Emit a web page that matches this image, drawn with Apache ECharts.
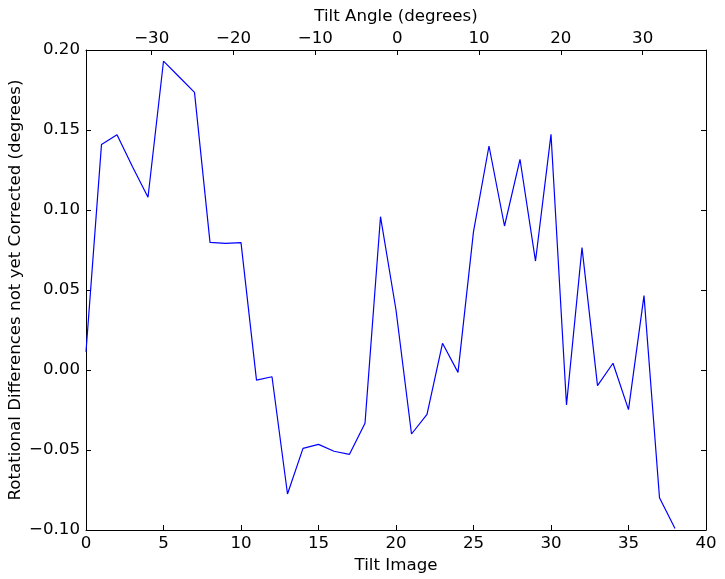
<!DOCTYPE html>
<html>
<head>
<meta charset="utf-8">
<script src="https://cdn.jsdelivr.net/npm/echarts@6/dist/echarts.min.js"></script>
<style>html,body{margin:0;padding:0;background:#fff}#c{width:725px;height:579px}</style>
</head>
<body>
<div id="c"></div>
<script>
const tiltImage = [0,1,2,3,4,5,6,7,8,9,10,11,12,13,14,15,16,17,18,19,20,21,22,23,24,25,26,27,28,29,30,31,32,33,34,35,36,37,38];
const rotDiff = [0.0114,0.141,0.147,0.127,0.108,0.193,0.1833,0.1735,0.0798,0.0792,0.0796,-0.0063,-0.0042,-0.0775,-0.049,-0.0465,-0.0508,-0.0527,-0.0333,0.0958,0.0375,-0.040,-0.0277,0.0167,-0.0015,0.0865,0.140,0.090,0.1317,0.0681,0.1473,-0.0219,0.0765,-0.0098,0.0042,-0.0248,0.0465,-0.0798,-0.099];
const bottomTicks = [0,5,10,15,20,25,30,35,40];
const topTicks = [-30,-20,-10,0,10,20,30];
const yTicks = [-0.10,-0.05,0.00,0.05,0.10,0.15,0.20];

const FONT = 'DejaVu Sans';
const FS = 16.67;
const minus = v => (v < 0 ? '\u2212' : '') + Math.abs(v);
const chart = echarts.init(document.getElementById('c'), null, {renderer: 'canvas'});
const axisLine = {show: true, onZero: false, lineStyle: {color: '#000', width: 1}};
const tick = {show: true, inside: true, length: 5, lineStyle: {color: '#000', width: 1}};
chart.setOption({
  backgroundColor: '#fff',
  animation: false,
  grid: {left: 86, right: 19, top: 50, bottom: 49, containLabel: false, outerBoundsMode: 'none'},
  xAxis: [
    {
      type: 'value', position: 'bottom', min: 0, max: 40, interval: 5,
      name: 'Tilt Image', nameLocation: 'middle', nameGap: 24,
      nameTextStyle: {fontFamily: FONT, fontSize: FS, color: '#000'},
      axisLine, axisTick: tick, splitLine: {show: false},
      axisLabel: {fontFamily: FONT, fontSize: FS, color: '#000', margin: 5,
        customValues: bottomTicks, formatter: v => String(v)},
    },
    {
      type: 'value', position: 'top', min: -38.03, max: 37.74,
      name: 'Tilt Angle (degrees)', nameLocation: 'middle', nameGap: 25,
      nameTextStyle: {fontFamily: FONT, fontSize: FS, color: '#000'},
      axisLine, axisTick: Object.assign({}, tick, {customValues: topTicks}), splitLine: {show: false},
      axisLabel: {fontFamily: FONT, fontSize: FS, color: '#000', margin: 3,
        customValues: topTicks, formatter: v => minus(v)},
    }
  ],
  yAxis: [
    {
      type: 'value', position: 'left', min: -0.1, max: 0.2, interval: 0.05,
      name: 'Rotational Differences not yet Corrected (degrees)', nameLocation: 'middle', nameGap: 62,
      nameMoveOverlap: false,
      nameTextStyle: {fontFamily: FONT, fontSize: FS, color: '#000'},
      axisLine, axisTick: tick, splitLine: {show: false},
      axisLabel: {fontFamily: FONT, fontSize: FS, color: '#000', margin: 6,
        formatter: v => (v < 0 ? '\u2212' : '') + Math.abs(v).toFixed(2)},
    },
    {
      type: 'value', position: 'right', min: -0.1, max: 0.2, interval: 0.05,
      axisLine, axisTick: tick, splitLine: {show: false}, axisLabel: {show: false}
    }
  ],
  series: [{
    type: 'line', xAxisIndex: 0, yAxisIndex: 0,
    data: tiltImage.map((x, i) => [x, rotDiff[i]]),
    showSymbol: false, symbol: 'none',
    lineStyle: {color: '#0000ff', width: 1.2},
    clip: true
  }]
});
</script>
</body>
</html>
